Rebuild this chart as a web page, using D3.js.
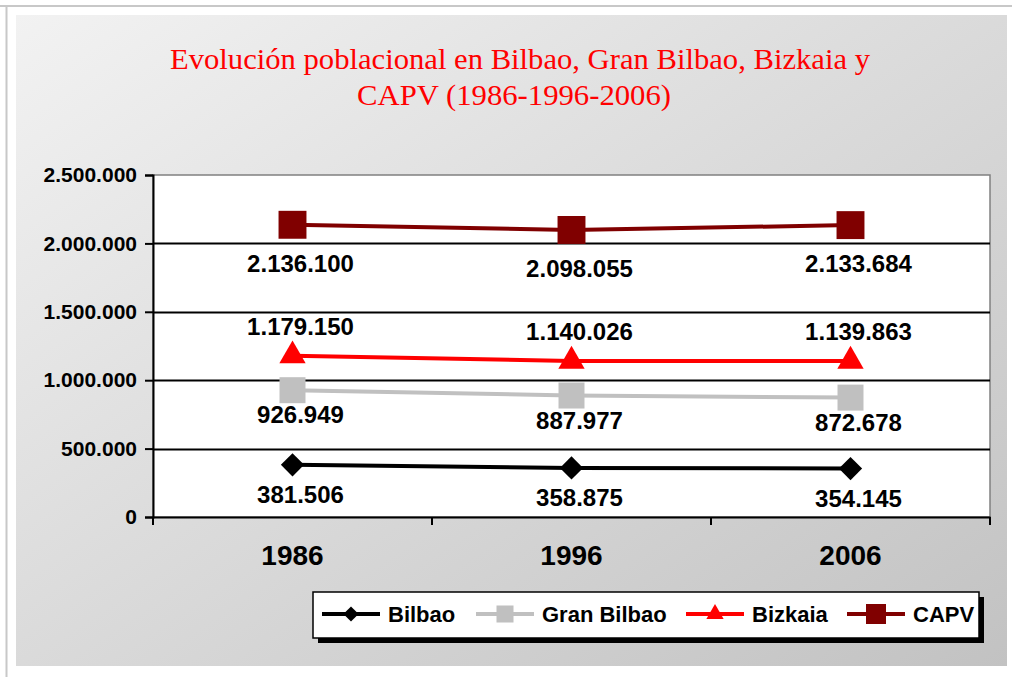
<!DOCTYPE html>
<html>
<head>
<meta charset="utf-8">
<script src="https://cdn.jsdelivr.net/npm/d3@7"></script>
<style>
body { margin: 0; background: #fff; }
svg { display: block; }
</style>
</head>
<body>
<script>
var years = ["1986", "1996", "2006"];
var bilbao = [381506, 358875, 354145];
var granBilbao = [926949, 887977, 872678];
var bizkaia = [1179150, 1140026, 1139863];
var capv = [2136100, 2098055, 2133684];
var yTicks = [0, 500000, 1000000, 1500000, 2000000, 2500000];

// rotated square for the diamond marker
var diamond = {
    draw: function(ctx, size) {
        var r = Math.sqrt(size / 2);
        ctx.moveTo(0, -r);
        ctx.lineTo(r, 0);
        ctx.lineTo(0, r);
        ctx.lineTo(-r, 0);
        ctx.closePath();
    }
};

var series = [
    {name: "Bilbao", values: bilbao, color: "#000000", symbol: diamond, size: 270, legendSize: 115, dy: 38},
    {name: "Gran Bilbao", values: granBilbao, color: "#c0c0c0", symbol: d3.symbolSquare, size: 676, legendSize: 290, dy: 33},
    {name: "Bizkaia", values: bizkaia, color: "#ff0000", symbol: d3.symbolTriangle, size: 300, legendSize: 130, dy: -21},
    {name: "CAPV", values: capv, color: "#800000", symbol: d3.symbolSquare, size: 780, legendSize: 400, dy: 47}
];

var w = 1012, h = 677;
var svg = d3.select("body").append("svg")
    .attr("width", w)
    .attr("height", h);

var defs = svg.append("defs");
var grad = defs.append("linearGradient")
    .attr("id", "bg")
    .attr("x1", "0%").attr("y1", "0%")
    .attr("x2", "100%").attr("y2", "100%");
grad.append("stop").attr("offset", "0%").attr("stop-color", "#f2f2f2");
grad.append("stop").attr("offset", "100%").attr("stop-color", "#c2c2c2");

// outer frame lines
svg.append("line").attr("x1", 0).attr("x2", w).attr("y1", 6).attr("y2", 6)
    .attr("stroke", "#c8c8c8").attr("stroke-width", 2);
svg.append("line").attr("x1", 6.5).attr("x2", 6.5).attr("y1", 6).attr("y2", h)
    .attr("stroke", "#c8c8c8").attr("stroke-width", 2);

svg.append("rect")
    .attr("x", 16).attr("y", 15)
    .attr("width", 991).attr("height", 651)
    .attr("fill", "url(#bg)");

// title
var title = svg.append("text")
    .attr("text-anchor", "middle")
    .attr("fill", "#ff0000")
    .style("font-family", "'Liberation Serif', serif")
    .style("font-size", "30px");
title.append("tspan").attr("x", 520).attr("y", 69)
    .attr("textLength", 700).attr("lengthAdjust", "spacingAndGlyphs")
    .text("Evolución poblacional en Bilbao, Gran Bilbao, Bizkaia y");
title.append("tspan").attr("x", 514).attr("y", 105)
    .attr("textLength", 314).attr("lengthAdjust", "spacingAndGlyphs")
    .text("CAPV (1986-1996-2006)");

var plot = {left: 153, top: 175, right: 990, bottom: 517};

var x = d3.scaleBand()
    .domain(years)
    .range([plot.left, plot.right]);

var y = d3.scaleLinear()
    .domain([0, 2500000])
    .range([plot.bottom, plot.top]);

var fmt = function(v) {
    return d3.format(",")(v).replace(/,/g, ".");
};

svg.append("rect")
    .attr("x", plot.left).attr("y", plot.top)
    .attr("width", plot.right - plot.left).attr("height", plot.bottom - plot.top)
    .attr("fill", "#fff")
    .attr("stroke", "#808080")
    .attr("stroke-width", 1.5);

// gridlines
svg.append("g")
    .selectAll("line")
    .data(yTicks.slice(1, -1))
    .enter()
    .append("line")
    .attr("x1", plot.left).attr("x2", plot.right)
    .attr("y1", function(d) { return Math.round(y(d)) + 0.5; })
    .attr("y2", function(d) { return Math.round(y(d)) + 0.5; })
    .attr("stroke", "#000")
    .attr("stroke-width", 2);

// y axis
var yAxis = svg.append("g")
    .attr("transform", "translate(" + plot.left + ",0)")
    .call(d3.axisLeft(y).tickValues(yTicks).tickFormat(fmt).tickSize(8).tickPadding(8));
yAxis.selectAll("path, line").attr("stroke", "#000").attr("stroke-width", 2);
yAxis.selectAll("text")
    .style("font-family", "'Liberation Sans', Arial, sans-serif")
    .style("font-size", "21px")
    .style("font-weight", "bold")
    .attr("fill", "#000");

// x axis
var xAxis = svg.append("g")
    .attr("transform", "translate(0," + plot.bottom + ")")
    .call(d3.axisBottom(x).tickSize(0).tickPadding(28));
xAxis.select("path").attr("stroke", "#000").attr("stroke-width", 2);
xAxis.selectAll("text")
    .style("font-family", "'Liberation Sans', Arial, sans-serif")
    .style("font-size", "28px")
    .style("font-weight", "bold")
    .attr("fill", "#000");
var bounds = [plot.left].concat(years.map(function(d) { return x(d) + x.bandwidth(); }));
xAxis.selectAll(".sep")
    .data(bounds)
    .enter()
    .append("line")
    .attr("x1", function(d) { return d; })
    .attr("x2", function(d) { return d; })
    .attr("y1", 0).attr("y2", 8)
    .attr("stroke", "#000").attr("stroke-width", 2);

var cx = function(i) { return x(years[i]) + x.bandwidth() / 2; };

var line = d3.line()
    .x(function(d, i) { return cx(i); })
    .y(function(d) { return y(d); });

series.forEach(function(s) {
    var g = svg.append("g");
    g.append("path")
        .datum(s.values)
        .attr("d", line)
        .attr("fill", "none")
        .attr("stroke", s.color)
        .attr("stroke-width", 4);
    g.selectAll("path.m")
        .data(s.values)
        .enter()
        .append("path")
        .attr("class", "m")
        .attr("transform", function(d, i) { return "translate(" + cx(i) + "," + y(d) + ")"; })
        .attr("d", d3.symbol().type(s.symbol).size(s.size))
        .attr("fill", s.color);
    g.selectAll("text")
        .data(s.values)
        .enter()
        .append("text")
        .attr("x", function(d, i) { return cx(i) + 8; })
        .attr("y", function(d) { return y(d) + s.dy; })
        .attr("text-anchor", "middle")
        .style("font-family", "'Liberation Sans', Arial, sans-serif")
        .style("font-size", "24px")
        .style("font-weight", "bold")
        .attr("fill", "#000")
        .text(fmt);
});

// legend
var lg = {x: 313, y: 592, w: 666, h: 46};
svg.append("rect")
    .attr("x", lg.x + 5).attr("y", lg.y + 5)
    .attr("width", lg.w).attr("height", lg.h)
    .attr("fill", "#000");
svg.append("rect")
    .attr("x", lg.x).attr("y", lg.y)
    .attr("width", lg.w).attr("height", lg.h)
    .attr("fill", "#fff")
    .attr("stroke", "#000")
    .attr("stroke-width", 1.5);

var legendX = [322, 476, 686, 847];
series.forEach(function(s, i) {
    var g = svg.append("g").attr("transform", "translate(" + legendX[i] + "," + (lg.y + 22) + ")");
    g.append("line")
        .attr("x1", 0).attr("x2", 58)
        .attr("stroke", s.color).attr("stroke-width", 4);
    g.append("path")
        .attr("transform", "translate(29,0)")
        .attr("d", d3.symbol().type(s.symbol).size(s.legendSize))
        .attr("fill", s.color);
    g.append("text")
        .attr("x", 66).attr("y", 8)
        .style("font-family", "'Liberation Sans', Arial, sans-serif")
        .style("font-size", "22px")
        .style("font-weight", "bold")
        .attr("fill", "#000")
        .text(s.name);
});
</script>
</body>
</html>
